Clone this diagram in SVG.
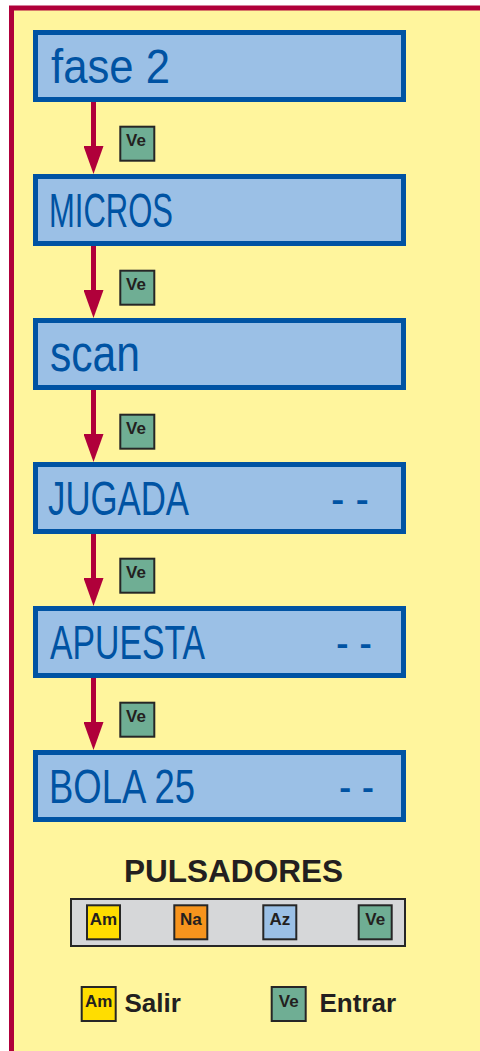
<svg xmlns="http://www.w3.org/2000/svg" width="480" height="1051" viewBox="0 0 480 1051">
<style>
.frame{fill:#fff59d;stroke:#b0003a;stroke-width:5}
.box{fill:#9bc0e6;stroke:#0053a3;stroke-width:5}
.lbl{font-family:"Liberation Sans",Arial,sans-serif;font-size:48px;fill:#0053a3}
.dash{font-family:"Liberation Sans",Arial,sans-serif;font-size:48px;fill:#0053a3}
.btn{stroke:#262626;stroke-width:2}
.btxt{font-family:"Liberation Sans",Arial,sans-serif;font-weight:bold;font-size:17px;fill:#231f20;text-anchor:middle}
.big{font-family:"Liberation Sans",Arial,sans-serif;font-weight:bold;fill:#231f20}
.ve{fill:#6fae94}.am{fill:#ffdd00}.na{fill:#f7941d}.az{fill:#9bc0e6}
.conn{stroke:#b0003a;stroke-width:5;fill:none}
</style>
<defs>
<marker id="ah" viewBox="0 0 28 20" refX="0" refY="10" markerWidth="28" markerHeight="20" markerUnits="userSpaceOnUse" orient="auto">
<path d="M0,0 L28,10 L0,20 z" fill="#b0003a"/>
</marker>
</defs>
<rect x="0" y="0" width="480" height="1051" fill="#ffffff"/>
<rect class="frame" x="11.5" y="8" width="600" height="1200"/>

<g id="connectors">
<path class="conn" d="M93.5,102 V146" marker-end="url(#ah)"/>
<path class="conn" d="M93.5,246 V290" marker-end="url(#ah)"/>
<path class="conn" d="M93.5,390 V434" marker-end="url(#ah)"/>
<path class="conn" d="M93.5,534 V578" marker-end="url(#ah)"/>
<path class="conn" d="M93.5,678 V722" marker-end="url(#ah)"/>
<g id="conn-labels">
<rect class="btn ve" x="120.3" y="126.7" width="34" height="34"/><text class="btxt" x="136" y="146">Ve</text>
<rect class="btn ve" x="120.3" y="270.7" width="34" height="34"/><text class="btxt" x="136" y="290">Ve</text>
<rect class="btn ve" x="120.3" y="414.7" width="34" height="34"/><text class="btxt" x="136" y="434">Ve</text>
<rect class="btn ve" x="120.3" y="558.7" width="34" height="34"/><text class="btxt" x="136" y="578">Ve</text>
<rect class="btn ve" x="120.3" y="702.7" width="34" height="34"/><text class="btxt" x="136" y="722">Ve</text>
</g>
</g>

<g id="n-fase2">
<rect class="box" x="35.5" y="32.5" width="368" height="67"/>
<text class="lbl" x="51" y="83" textLength="119" lengthAdjust="spacingAndGlyphs">fase 2</text>
</g>
<g id="n-micros">
<rect class="box" x="35.5" y="176.5" width="368" height="67"/>
<text class="lbl" x="49" y="227" textLength="124" lengthAdjust="spacingAndGlyphs">MICROS</text>
</g>
<g id="n-scan">
<rect class="box" x="35.5" y="320.5" width="368" height="67"/>
<text class="lbl" x="50" y="371" font-size="52" textLength="90" lengthAdjust="spacingAndGlyphs" style="font-size:52px">scan</text>
</g>
<g id="n-jugada">
<rect class="box" x="35.5" y="464.5" width="368" height="67"/>
<text class="lbl" x="48" y="515" textLength="141" lengthAdjust="spacingAndGlyphs">JUGADA</text>
<text class="dash" x="331" y="515" textLength="38" lengthAdjust="spacingAndGlyphs">- -</text>
</g>
<g id="n-apuesta">
<rect class="box" x="35.5" y="608.5" width="368" height="67"/>
<text class="lbl" x="50" y="659" textLength="155" lengthAdjust="spacingAndGlyphs">APUESTA</text>
<text class="dash" x="336" y="659" textLength="36" lengthAdjust="spacingAndGlyphs">- -</text>
</g>
<g id="n-bola25">
<rect class="box" x="35.5" y="752.5" width="368" height="67"/>
<text class="lbl" x="49" y="803" textLength="146" lengthAdjust="spacingAndGlyphs">BOLA 25</text>
<text class="dash" x="339" y="803" textLength="35" lengthAdjust="spacingAndGlyphs">- -</text>
</g>

<g id="pulsadores">
<text class="big" x="233.5" y="882" font-size="32" text-anchor="middle" textLength="219" lengthAdjust="spacingAndGlyphs" style="font-size:32px">PULSADORES</text>
<rect x="71" y="899" width="334" height="47" fill="#d6d7d9" stroke="#262626" stroke-width="2"/>
<rect class="btn am" x="87" y="905.3" width="33" height="34"/><text class="btxt" x="103.5" y="924.5">Am</text>
<rect class="btn na" x="174.3" y="905.3" width="33" height="34"/><text class="btxt" x="190.8" y="924.5">Na</text>
<rect class="btn az" x="263.3" y="905.3" width="33" height="34"/><text class="btxt" x="279.8" y="924.5">Az</text>
<rect class="btn ve" x="358.7" y="905.3" width="33" height="34"/><text class="btxt" x="375.2" y="924.5">Ve</text>
</g>

<g id="legend">
<rect class="btn am" x="81.7" y="987" width="34" height="34"/><text class="btxt" x="98.7" y="1006.5">Am</text>
<text class="big" x="124.5" y="1012" style="font-size:26px">Salir</text>
<rect class="btn ve" x="271.7" y="987" width="34" height="34"/><text class="btxt" x="288.7" y="1006.5">Ve</text>
<text class="big" x="319.5" y="1012" style="font-size:26px">Entrar</text>
</g>
</svg>
